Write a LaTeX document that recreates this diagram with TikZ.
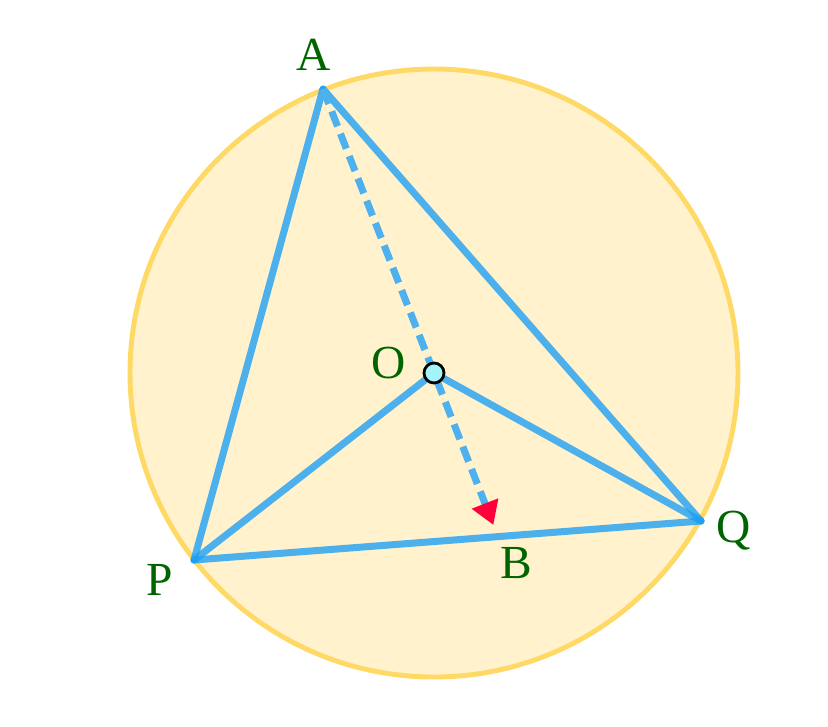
\documentclass[tikz,border=0pt]{standalone}
\usepackage{fontspec}
\setmainfont{Liberation Serif}
\usepackage{tikz}
\usetikzlibrary{arrows.meta}
\usetikzlibrary{calc}
\definecolor{ringfill}{RGB}{255,242,204}
\definecolor{ringline}{RGB}{255,217,102}
\definecolor{sideblue}{RGB}{30,160,245}
\definecolor{dashblue}{RGB}{77,177,240}
\definecolor{tipred}{RGB}{255,0,60}
\definecolor{labgreen}{RGB}{0,100,0}
\definecolor{dotcyan}{RGB}{160,244,250}
\begin{document}
\begin{tikzpicture}[line cap=round,line join=round,x=1cm,y=1cm,
  side/.style={line width=2pt,draw=sideblue,draw opacity=0.8},
  lab/.style={anchor=base,text=labgreen,font=\fontsize{13.5}{16}\selectfont}]
\useasboundingbox (0,0) rectangle (8.28,7.26);
\coordinate (O) at (4.34,3.53);
\coordinate (A) at (3.23,6.37);
\coordinate (P) at (1.94,1.66);
\coordinate (Q) at (7.01,2.05);
\coordinate (B) at ($(A)!1.535!(O)$);
\draw [line width=1.4pt,draw=ringline,fill=ringfill] (O) circle (3.04);
\draw [side] (A)-- (P);
\draw [side] (A)-- (Q);
\draw [side] (P)-- (Q);
\draw [side] (O)-- (P);
\draw [side] (O)-- (Q);
\draw [line width=2pt,draw=dashblue,line cap=butt,dash pattern=on 0.16cm off 0.08cm,
  -{Triangle[length=0.23cm,width=0.27cm,color=tipred]}] (A)-- (B);
\draw [line width=0.8pt,fill=dotcyan] (O) circle (0.1);
\node[lab] (labA) at (3.14,6.56) {A};
\node[lab] (labO) at (3.89,3.48) {O};
\node[lab] (labB) at (5.16,1.48) {B};
\node[lab] (labP) at (1.60,1.31) {P};
\node[lab] (labQ) at (7.34,1.84) {Q};
\end{tikzpicture}
\end{document}
